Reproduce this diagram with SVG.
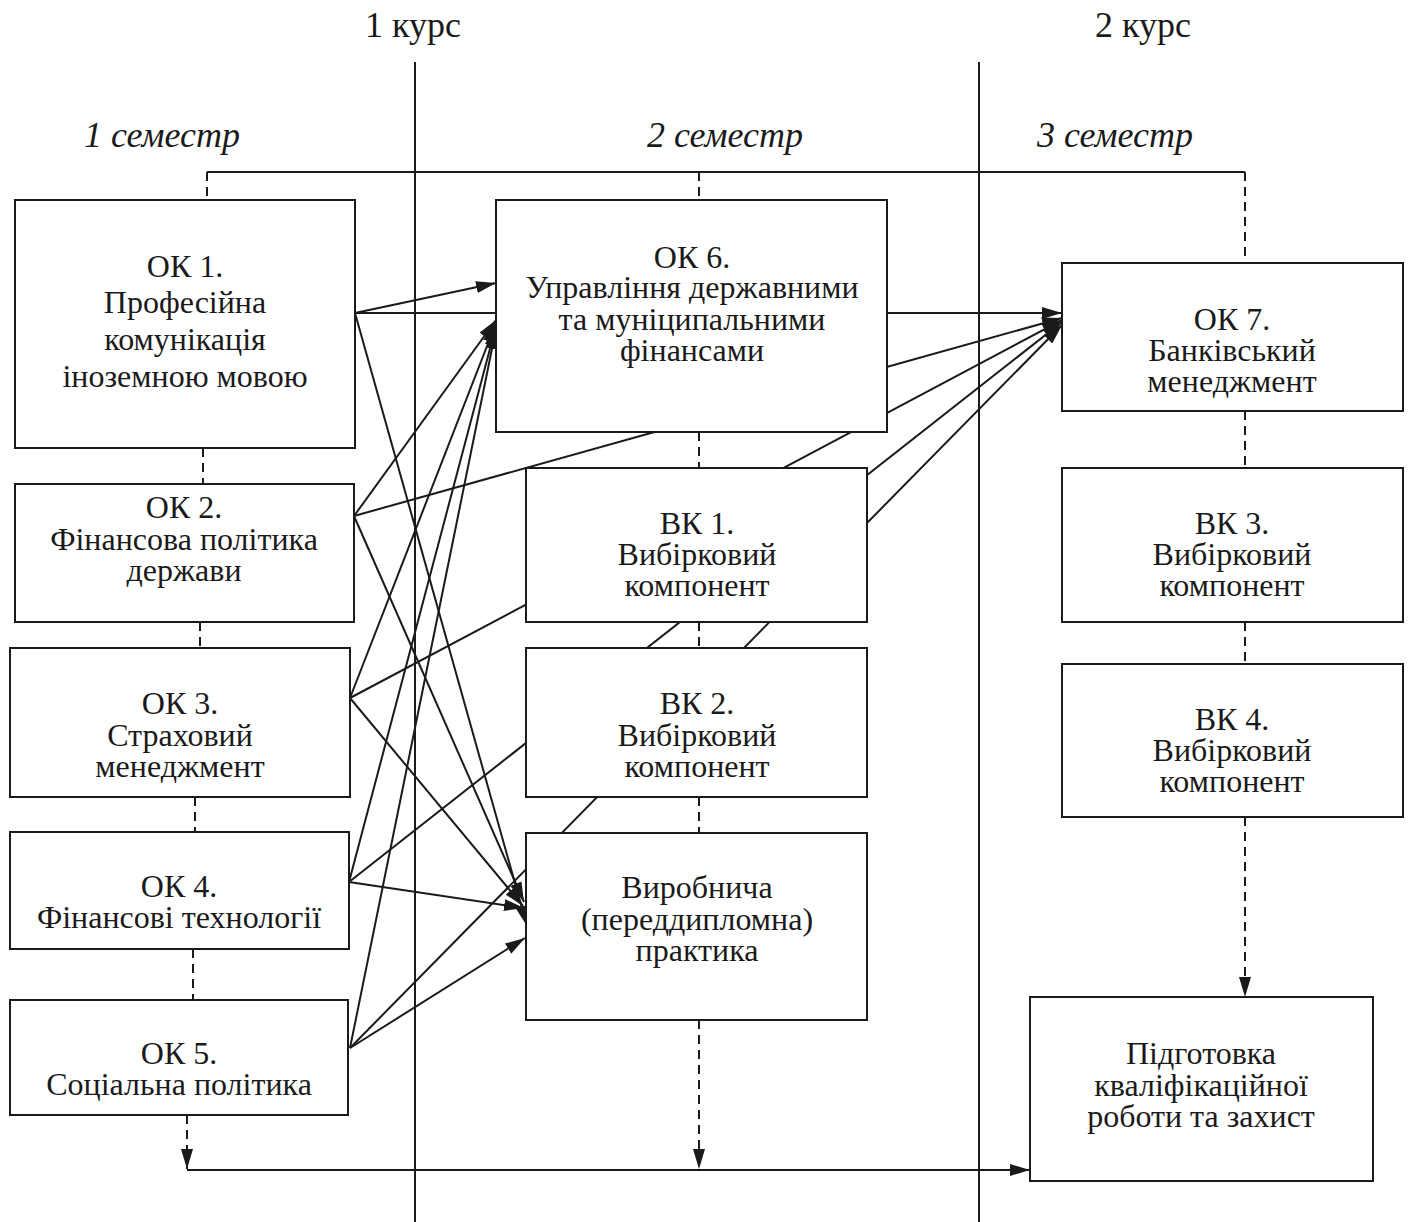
<svg xmlns="http://www.w3.org/2000/svg" width="1413" height="1222" viewBox="0 0 1413 1222">
<style>
text{font-family:"Liberation Serif","Times New Roman",serif;font-size:32px;fill:#1a1a1a;text-anchor:middle}
.hd{font-size:36px}
.it{font-style:italic;font-size:36px}
.box{fill:#fff;stroke:#1a1a1a;stroke-width:2}
.ln{fill:none;stroke:#1a1a1a;stroke-width:2}
.ar{fill:none;stroke:#1a1a1a;stroke-width:2;marker-end:url(#ah)}
.ds{fill:none;stroke:#1a1a1a;stroke-width:2;stroke-dasharray:9 6}
.dsa{fill:none;stroke:#1a1a1a;stroke-width:2;stroke-dasharray:9 6;marker-end:url(#ah)}
</style>
<defs>
<marker id="ah" viewBox="0 0 20 12" refX="20" refY="6" markerWidth="20" markerHeight="12" markerUnits="userSpaceOnUse" orient="auto">
<path d="M0,0 L20,6 L0,12 Z" fill="#1a1a1a"/>
</marker>
</defs>
<rect width="1413" height="1222" fill="#fff"/>
<g id="headers">
<text class="hd" x="413" y="37">1 курс</text>
<text class="hd" x="1143" y="37">2 курс</text>
<text class="it" x="162" y="147">1 семестр</text>
<text class="it" x="725" y="147">2 семестр</text>
<text class="it" x="1115" y="147">3 семестр</text>
</g>
<g id="connectors">
<line class="ln" x1="415" y1="62" x2="415" y2="1222"/>
<line class="ln" x1="979" y1="62" x2="979" y2="1222"/>
<line class="ln" x1="207" y1="172" x2="1245" y2="172"/>
<line class="ds" x1="207" y1="172" x2="207" y2="200"/>
<line class="ds" x1="699" y1="172" x2="699" y2="200"/>
<line class="ds" x1="1245" y1="172" x2="1245" y2="263"/>
<line class="ds" x1="203" y1="448" x2="203" y2="484"/>
<line class="ds" x1="200" y1="622" x2="200" y2="648"/>
<line class="ds" x1="195" y1="797" x2="195" y2="832"/>
<line class="ds" x1="193" y1="949" x2="193" y2="1000"/>
<line class="ds" x1="699" y1="432" x2="699" y2="468"/>
<line class="ds" x1="699" y1="622" x2="699" y2="648"/>
<line class="ds" x1="699" y1="797" x2="699" y2="833"/>
<line class="dsa" x1="699" y1="1020" x2="699" y2="1169"/>
<line class="ds" x1="1245" y1="411" x2="1245" y2="468"/>
<line class="ds" x1="1245" y1="622" x2="1245" y2="664"/>
<line class="dsa" x1="1245" y1="817" x2="1245" y2="997"/>
<line class="dsa" x1="187" y1="1115" x2="187" y2="1169"/>
<line class="ar" x1="187" y1="1170" x2="1030" y2="1170"/>
<!-- OK1 -->
<line class="ar" x1="355" y1="313" x2="496" y2="283"/>
<line class="ar" x1="355" y1="313" x2="1062" y2="313"/>
<line class="ar" x1="355" y1="313" x2="527" y2="926"/>
<!-- OK2 -->
<line class="ar" x1="354" y1="516" x2="496" y2="320"/>
<line class="ar" x1="354" y1="516" x2="1062" y2="318"/>
<line class="ar" x1="354" y1="516" x2="524" y2="902"/>
<!-- OK3 -->
<line class="ar" x1="350" y1="698" x2="496" y2="323"/>
<line class="ar" x1="350" y1="698" x2="1062" y2="320"/>
<line class="ar" x1="350" y1="698" x2="523" y2="906"/>
<!-- OK4 -->
<line class="ar" x1="349" y1="882" x2="496" y2="326"/>
<line class="ar" x1="349" y1="882" x2="1062" y2="322"/>
<line class="ar" x1="349" y1="882" x2="524" y2="908"/>
<!-- OK5 -->
<line class="ar" x1="350" y1="1048" x2="496" y2="329"/>
<line class="ar" x1="350" y1="1048" x2="1062" y2="325"/>
<line class="ar" x1="350" y1="1048" x2="525" y2="938"/>
</g>
<g id="ok1"><rect class="box" x="15" y="200" width="340" height="248"/>
<text x="185" y="277">ОК 1.</text><text x="185" y="313">Професійна</text><text x="185" y="350">комунікація</text><text x="185" y="387">іноземною мовою</text></g>
<g id="ok2"><rect class="box" x="15" y="484" width="339" height="138"/>
<text x="184" y="518">ОК 2.</text><text x="184" y="550">Фінансова політика</text><text x="184" y="581">держави</text></g>
<g id="ok3"><rect class="box" x="10" y="648" width="340" height="149"/>
<text x="180" y="714">ОК 3.</text><text x="180" y="746">Страховий</text><text x="180" y="777">менеджмент</text></g>
<g id="ok4"><rect class="box" x="10" y="832" width="339" height="117"/>
<text x="179" y="897">ОК 4.</text><text x="179" y="928">Фінансові технології</text></g>
<g id="ok5"><rect class="box" x="10" y="1000" width="338" height="115"/>
<text x="179" y="1064">ОК 5.</text><text x="179" y="1095">Соціальна політика</text></g>
<g id="ok6"><rect class="box" x="496" y="200" width="391" height="232"/>
<text x="692" y="268">ОК 6.</text><text x="692" y="298">Управління державними</text><text x="692" y="330">та муніципальними</text><text x="692" y="361">фінансами</text></g>
<g id="vk1"><rect class="box" x="526" y="468" width="341" height="154"/>
<text x="697" y="534">ВК 1.</text><text x="697" y="565">Вибірковий</text><text x="697" y="596">компонент</text></g>
<g id="vk2"><rect class="box" x="526" y="648" width="341" height="149"/>
<text x="697" y="714">ВК 2.</text><text x="697" y="746">Вибірковий</text><text x="697" y="777">компонент</text></g>
<g id="practice"><rect class="box" x="526" y="833" width="341" height="187"/>
<text x="697" y="898">Виробнича</text><text x="697" y="930">(переддипломна)</text><text x="697" y="961">практика</text></g>
<g id="ok7"><rect class="box" x="1062" y="263" width="341" height="148"/>
<text x="1232" y="330">ОК 7.</text><text x="1232" y="361">Банківський</text><text x="1232" y="392">менеджмент</text></g>
<g id="vk3"><rect class="box" x="1062" y="468" width="341" height="154"/>
<text x="1232" y="534">ВК 3.</text><text x="1232" y="565">Вибірковий</text><text x="1232" y="596">компонент</text></g>
<g id="vk4"><rect class="box" x="1062" y="664" width="341" height="153"/>
<text x="1232" y="730">ВК 4.</text><text x="1232" y="761">Вибірковий</text><text x="1232" y="792">компонент</text></g>
<g id="final"><rect class="box" x="1030" y="997" width="343" height="184"/>
<text x="1201" y="1064">Підготовка</text><text x="1201" y="1096">кваліфікаційної</text><text x="1201" y="1127">роботи та захист</text></g>
</svg>
